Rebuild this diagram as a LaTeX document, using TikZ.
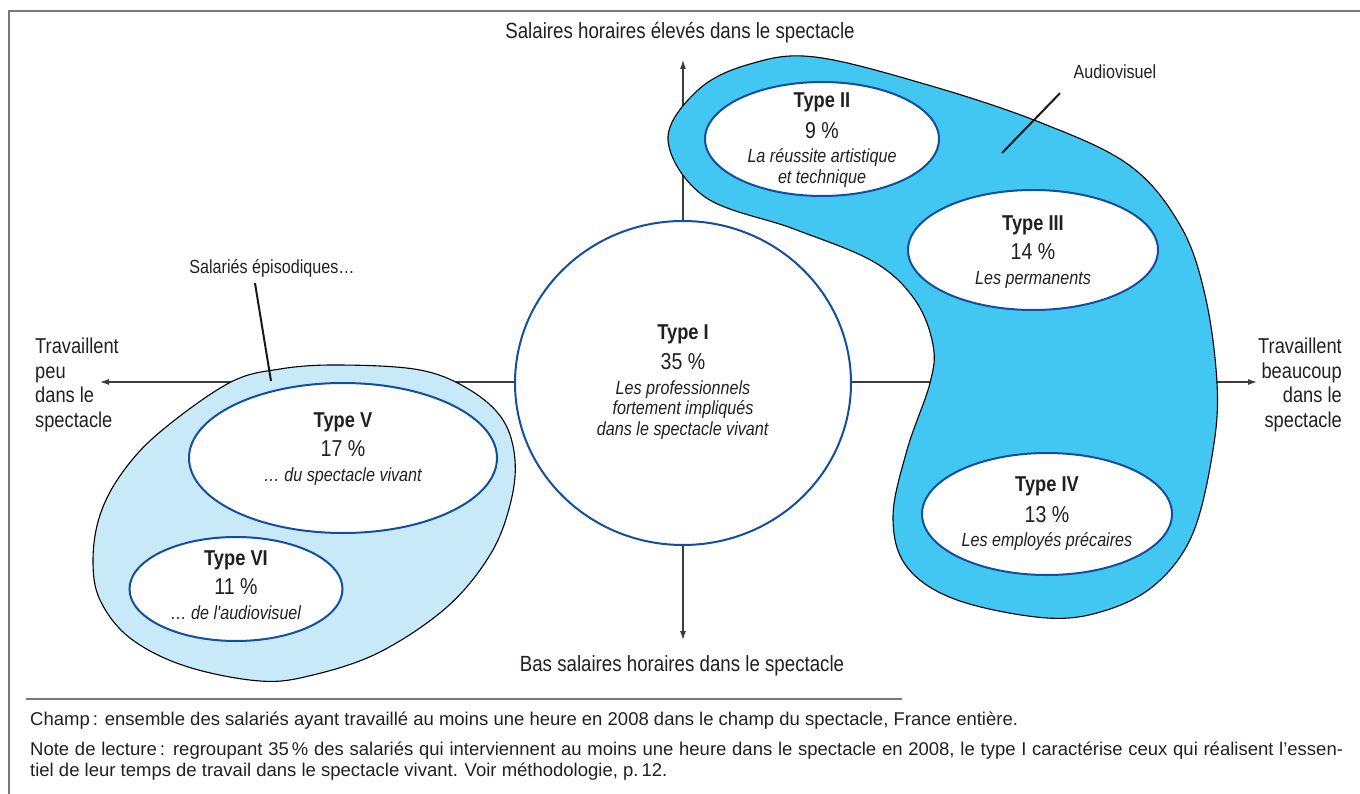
\documentclass[tikz,border=0pt]{standalone}
\usepackage{fontspec}
\setmainfont{Liberation Sans}
\newfontfamily\cf{Liberation Sans}[FakeStretch=0.85]
\usetikzlibrary{shapes.geometric,arrows.meta}
\definecolor{cyanblob}{RGB}{66,199,242}
\definecolor{lightblob}{RGB}{199,233,248}
\definecolor{ellblue}{RGB}{20,78,160}
\definecolor{axisgray}{RGB}{60,60,60}
\definecolor{framegray}{RGB}{120,120,120}
\definecolor{txt}{RGB}{35,31,32}
\newcommand{\tyname}[1]{{\fontsize{21.5}{21.5}\selectfont\bfseries #1}}
\newcommand{\typct}[1]{{\fontsize{23}{23}\selectfont #1}}
\begin{document}
\begin{tikzpicture}[x=1pt,y=-1pt,
  typeell/.style={ellipse, draw=ellblue, line width=2pt, fill=white, inner sep=0pt},
  typetxt/.style={align=center, font=\cf\fontsize{19}{20.5}\selectfont, text=txt, inner sep=0pt},
  axislbl/.style={font=\cf\fontsize{21.5}{24.5}\selectfont, text=txt, inner sep=0pt},
  titlelbl/.style={font=\cf\fontsize{22}{24}\selectfont, text=txt, inner sep=0pt},
  smalllbl/.style={font=\cf\fontsize{19}{21}\selectfont, text=txt, inner sep=0pt},
  axisline/.style={draw=axisgray, line width=1.1pt},
  axisarrow/.style={axisline, -{Latex[length=9pt,width=6pt]}},
  blobline/.style={draw=black, line width=1.1pt},
  pointer/.style={draw=black!90, line width=2pt},
  note/.style={font=\fontsize{18.5}{21}\selectfont, text=txt, inner sep=0pt, anchor=base west}]
\useasboundingbox (0,0) rectangle (1360,794);
% frame
\draw[framegray, line width=1.5pt] (9,794) -- (9,11) -- (1360,11);
% axes
\coordinate (ctr) at (683,382);
\coordinate (ytop) at (683,60);
\coordinate (ybot) at (683,640);
\coordinate (xl) at (100,382);
\coordinate (xr) at (1257,382);
\draw[axisarrow] (ctr) -- (ytop);
\draw[axisarrow] (ctr) -- (ybot);
\draw[axisarrow] (ctr) -- (xl);
\draw[axisarrow] (ctr) -- (xr);
% axis labels
\node[titlelbl] (ttop) at (680,33) {Salaires horaires élevés dans le spectacle};
\node[titlelbl] (tbot) at (682,666) {Bas salaires horaires dans le spectacle};
\node[axislbl, align=left, anchor=north west] (tleft) at (35,338) {Travaillent\\peu\\dans le\\spectacle};
\node[axislbl, align=right, anchor=north east] (tright) at (1342,338) {Travaillent\\beaucoup\\dans le\\spectacle};
% light blob (salariés épisodiques)
\filldraw[blobline, fill=lightblob] plot[smooth cycle, tension=0.6] coordinates {
 (339,365) (420,370) (470,390) (503,420) (515,460) (510,505) (490,555) (447,607)
 (380,652) (313,675) (260,681) (185,666) (130,638) (100,600) (93,560) (100,515)
 (122,473) (160,432) (229,383) (280,369)};
% dark blob (audiovisuel)
\filldraw[blobline, fill=cyanblob] plot[smooth cycle, tension=0.6] coordinates {
 (815,57) (928,85) (1039,122) (1129,165) (1180,225) (1205,295) (1217,383) (1213,450)
 (1193,533) (1157,583) (1107,610) (1047,618) (957,600) (907,567) (893,517) (907,450)
 (930,383) (933,345) (915,300) (874,262) (794,229) (705,197) (668,140) (698,90) (750,64)};
% ellipses
\node[typeell, minimum width=336pt, minimum height=324pt] (e1) at (683,383) {};
\node[typeell, minimum width=234pt, minimum height=114pt] (e2) at (822,139) {};
\node[typeell, minimum width=250pt, minimum height=120pt] (e3) at (1033,250) {};
\node[typeell, minimum width=250pt, minimum height=122pt] (e4) at (1047,514) {};
\node[typeell, minimum width=308pt, minimum height=150pt] (e5) at (343,458) {};
\node[typeell, minimum width=213pt, minimum height=104pt] (e6) at (236,589) {};
% texts
\node[typetxt] (t1) at (683,382) {\tyname{Type I}\\[9pt]\typct{35 \%}\\[4pt]\textit{Les professionnels}\\\textit{fortement impliqués}\\\textit{dans le spectacle vivant}};
\node[typetxt] (t2) at (822,140) {\tyname{Type II}\\[9pt]\typct{9 \%}\\[4pt]\textit{La réussite artistique}\\\textit{et technique}};
\node[typetxt] (t3) at (1033,252) {\tyname{Type III}\\[9pt]\typct{14 \%}\\[4pt]\textit{Les permanents}};
\node[typetxt] (t4) at (1047,514) {\tyname{Type IV}\\[9pt]\typct{13 \%}\\[4pt]\textit{Les employés précaires}};
\node[typetxt] (t5) at (343,449) {\tyname{Type V}\\[9pt]\typct{17 \%}\\[4pt]\textit{… du spectacle vivant}};
\node[typetxt] (t6) at (236,585) {\tyname{Type VI}\\[9pt]\typct{11 \%}\\[4pt]\textit{… de l'audiovisuel}};
% group labels and pointers
\node[smalllbl] (sal) at (272,268) {Salariés épisodiques…};
\coordinate (salp) at (271,381);
\draw[pointer] ([shift={(-17,6)}]sal.south) -- (salp);
\node[smalllbl] (av) at (1115,72) {Audiovisuel};
\coordinate (avp) at (1002,153);
\draw[pointer] ([shift={(-55,14)}]av.south) -- (avp);
% footer
\coordinate (r1) at (26,699);
\coordinate (r2) at (902,699);
\draw[framegray, line width=1.2pt] (r1) -- (r2);
\node[note] (n1) at (30,725) {Champ\,: ensemble des salariés ayant travaillé au moins une heure en 2008 dans le champ du spectacle, France entière.};
\node[note] (n2) at (30,755) {\makebox[1313pt][s]{Note de lecture\,: regroupant 35\,\% des salariés qui interviennent au moins une heure dans le spectacle en 2008, le type I caractérise ceux qui réalisent l’essen-}};
\node[note] (n3) at (30,776) {tiel de leur temps de travail dans le spectacle vivant. Voir méthodologie, p.\,12.};
\end{tikzpicture}
\end{document}
